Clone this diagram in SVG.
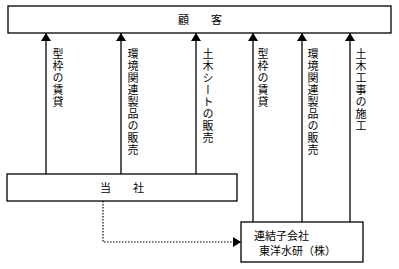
<svg xmlns="http://www.w3.org/2000/svg" width="399" height="269" viewBox="0 0 399 269">
<defs>
<marker id="ah" viewBox="0 0 8 10" refX="8" refY="5" markerWidth="8" markerHeight="10" markerUnits="userSpaceOnUse" orient="auto">
<path d="M0,0 L8,5 L0,10 Z" fill="#000"/>
</marker>
</defs>
<style>
.box{fill:#fff;stroke:#000;stroke-width:1.3}
.t{font-family:"Noto Sans CJK JP","Noto Sans",sans-serif;font-size:11px;fill:#000}
.v{font-family:"Noto Sans CJK JP","Noto Sans",sans-serif;font-size:11px;fill:#000;writing-mode:vertical-rl;letter-spacing:1px}
.c{stroke:#000;stroke-width:1.3;fill:none}
.d{stroke:#000;stroke-width:1.2;fill:none;stroke-dasharray:1.5 1.5}
</style>
<rect width="399" height="269" fill="#fff"/>
<g id="connectors">
<line class="c" x1="46" y1="174" x2="46" y2="33" marker-end="url(#ah)"/>
<line class="c" x1="121" y1="174" x2="121" y2="33" marker-end="url(#ah)"/>
<line class="c" x1="196" y1="174" x2="196" y2="33" marker-end="url(#ah)"/>
<line class="c" x1="253" y1="222" x2="253" y2="33" marker-end="url(#ah)"/>
<line class="c" x1="302" y1="222" x2="302" y2="33" marker-end="url(#ah)"/>
<line class="c" x1="350" y1="222" x2="350" y2="33" marker-end="url(#ah)"/>
<path class="d" d="M103,201 V242 H241" marker-end="url(#ah)"/>
<text class="v" x="58" y="48">型枠の賃貸</text>
<text class="v" x="133" y="48">環境関連製品の販売</text>
<text class="v" x="208" y="48">土木シートの販売</text>
<text class="v" x="263" y="48">型枠の賃貸</text>
<text class="v" x="313" y="48">環境関連製品の販売</text>
<text class="v" x="361" y="48">土木工事の施工</text>
</g>
<g id="customer">
<rect class="box" x="8" y="6" width="383" height="27"/>
<text class="t" x="200" y="23.5" text-anchor="middle">顧　　客</text>
</g>
<g id="company">
<rect class="box" x="7" y="174" width="230" height="27"/>
<text class="t" x="122" y="191.5" text-anchor="middle">当　　社</text>
</g>
<g id="subsidiary">
<rect class="box" x="241" y="222" width="122" height="40"/>
<text class="t" x="254" y="240">連結子会社</text>
<text class="t" x="259" y="255">東洋水研（株）</text>
</g>
</svg>
